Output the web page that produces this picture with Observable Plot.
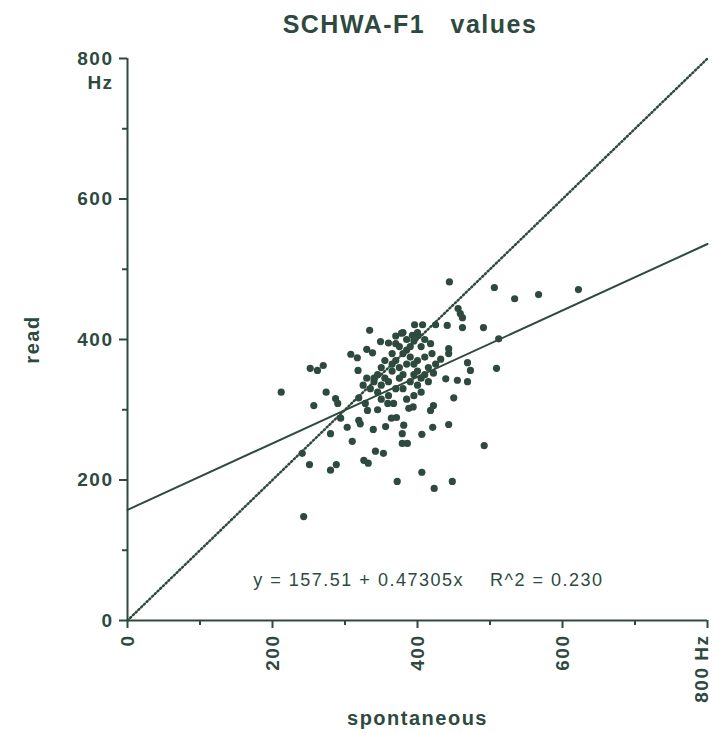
<!DOCTYPE html>
<html><head><meta charset="utf-8">
<script src="https://cdn.jsdelivr.net/npm/d3@7"></script>
<script src="https://cdn.jsdelivr.net/npm/@observablehq/plot@0.6"></script>
<style>body{margin:0;background:#fff;font-family:"Liberation Sans",Arial,sans-serif}#t{position:absolute;left:0;top:10px;width:820px;text-align:center;font-weight:bold;font-size:25px;color:#2e4a3f;letter-spacing:1.5px;white-space:pre}svg text{letter-spacing:1.5px}</style>
</head><body><div id="t">SCHWA-F1   values</div><div id="c"></div>
<script>
const xs=[444,506,534,567,622,459,456,462,396,407,425,441,462,491,334,378,393,401,349,370,418,512,330,338,308,317,443,443,252,262,270,318,432,469,473,509,439,455,469,422,212,274,287,290,257,319,328,331,450,294,303,280,319,321,310,339,356,364,371,381,379,379,386,421,443,406,418,422,388,394,359,367,241,251,280,288,326,332,342,353,492,372,406,423,448,243,
360,365,370,375,380,385,390,395,400,405,355,350,345,340,360,370,380,390,400,410,415,410,405,395,385,375,365,355,350,345,335,340,385,395,375,365,380,390,400,420,425,415,405,395,385,360,350,345,330,325,370,380,400,410];
const ys=[482,474,458,464,471,437,444,431,421,421,421,420,417,417,413,409,406,406,397,394,394,401,386,381,379,374,387,380,359,356,363,356,372,367,356,359,344,342,340,352,325,325,316,309,306,317,309,299,317,288,275,266,285,280,255,272,276,288,289,278,266,252,252,275,279,265,299,306,302,304,309,309,238,222,214,222,228,224,241,238,249,198,211,188,198,148,
395,380,370,360,350,385,375,365,355,345,370,360,350,340,340,330,330,340,335,350,360,375,390,398,400,390,355,345,335,325,330,345,365,350,345,365,380,390,370,380,365,340,325,320,315,320,315,300,345,335,405,410,410,400];
const pts=xs.map((x,i)=>({x,y:ys[i]}));
const intercept=157.51, slope=0.47305;
const fitLine=[0,800].map(x=>({x,y:intercept+slope*x}));
const idLine=[0,800].map(x=>({x,y:x}));
const majorTicks=[0,200,400,600,800];
const minorTicks=[100,300,500,700];
const col="#2e4a3f";
const ax={stroke:col,fill:col,label:null,strokeWidth:2,fontSize:19,fontWeight:"bold"};
const chart=Plot.plot({
 width:716,height:733,marginLeft:127,marginRight:9,marginTop:58,marginBottom:113,
 x:{domain:[0,800]},y:{domain:[0,800]},
 style:{fontFamily:"Liberation Sans, Arial",fontWeight:"bold",color:col},
 marks:[
  Plot.axisY(majorTicks,{...ax,tickSize:8,tickPadding:6}),
  Plot.axisY(minorTicks,{...ax,tickSize:5,tickFormat:()=>""}),
  Plot.axisX(majorTicks.slice(0,4),{...ax,tickSize:8,tickRotate:-90,tickPadding:6,textAnchor:"end"}),
  Plot.axisX([800],{...ax,tickSize:8,tickFormat:()=>""}),
  Plot.axisX(minorTicks,{...ax,tickSize:5,tickFormat:()=>""}),
  Plot.ruleX([0],{stroke:col,strokeWidth:2}),
  Plot.ruleY([0],{stroke:col,strokeWidth:2}),
  Plot.line(idLine,{x:"x",y:"y",stroke:col,strokeWidth:2.5,strokeDasharray:"1.2,2.6"}),
  Plot.line(fitLine,{x:"x",y:"y",stroke:col,strokeWidth:2}),
  Plot.dot(pts,{x:"x",y:"y",r:3.6,fill:col,stroke:null}),
  Plot.text(["y = 157.51 + 0.47305x    R^2 = 0.230"],{x:415,y:57,fill:col,fontWeight:"normal",fontSize:18}),
  Plot.text(["Hz"],{x:0,y:800,dx:-27,dy:24,fill:col,fontSize:19,textAnchor:"middle"}),
  Plot.text(["Hz"],{x:800,y:0,dx:-6,dy:14,rotate:-90,fill:col,fontSize:19,textAnchor:"end"}),
  Plot.text(["800"],{x:800,y:0,dx:-6,dy:46,rotate:-90,fill:col,fontSize:19,textAnchor:"end"}),
  Plot.text(["read"],{x:0,y:400,dx:-95,rotate:-90,fill:col,fontSize:20}),
  Plot.text(["spontaneous"],{x:400,y:0,dy:98,fill:col,fontSize:20})
 ]});
document.getElementById("c").append(chart);
</script></body></html>
